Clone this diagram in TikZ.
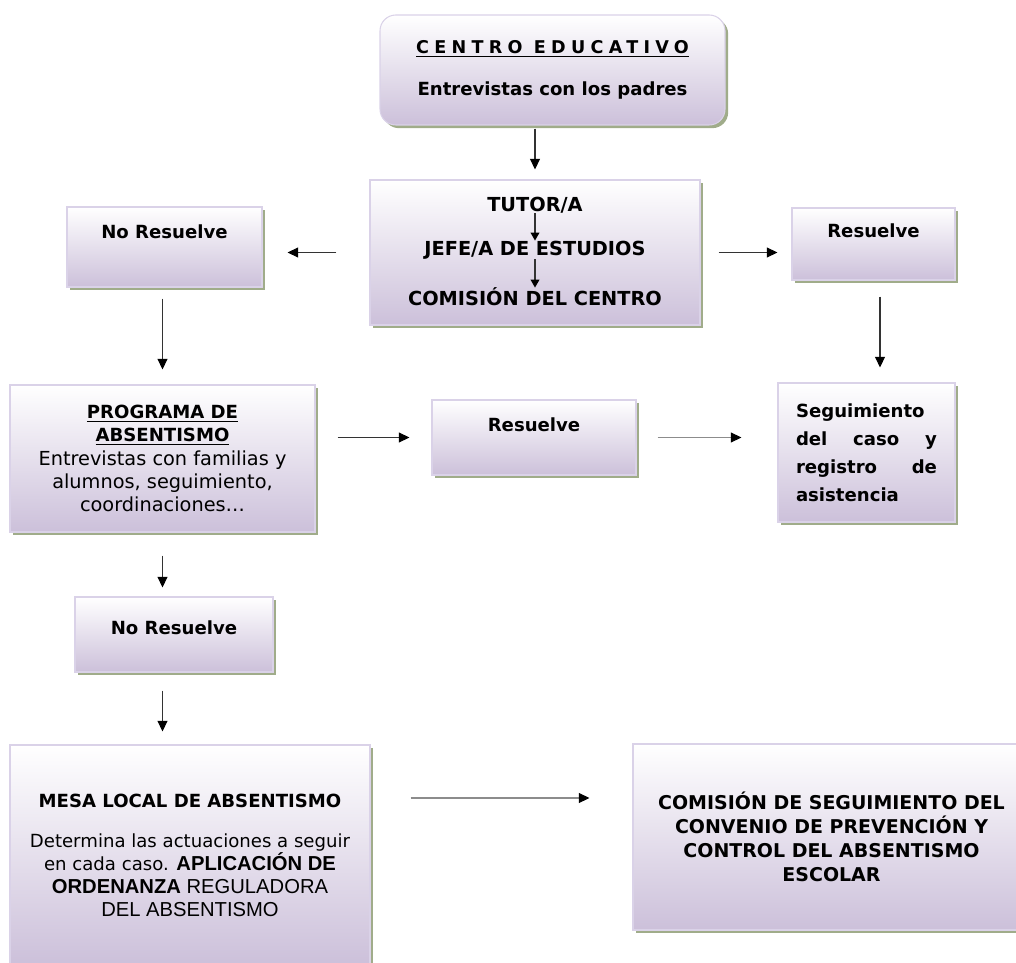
\documentclass[tikz,border=0pt]{standalone}
\usepackage{fontspec}
\setmainfont{DejaVu Sans}
\newfontfamily\arialfont{Liberation Sans}
\newfontfamily\spacedfont[LetterSpace=30]{DejaVu Sans}
\usetikzlibrary{arrows.meta,shadows}
\definecolor{lila}{RGB}{204,192,218}
\definecolor{lilaline}{RGB}{218,210,232}
\definecolor{shadowgreen}{RGB}{160,172,138}

\begin{document}
\begin{tikzpicture}[>={Triangle[length=6pt,width=5.6pt,color=black]},
  box/.style={draw=lilaline,line width=0.6pt,top color=white,bottom color=lila,
    drop shadow={shadow xshift=1.8pt,shadow yshift=-1.8pt,fill=shadowgreen,opacity=1},
    align=center,inner sep=3pt,font=\fontsize{10.3}{13}\selectfont},
  raised/.style={text height=8pt,text depth=#1},
  lbl/.style={inner sep=0pt,font=\bfseries\fontsize{11}{13}\selectfont},
  arr/.style={->,line width=0.6pt,draw=black!80},
  arrg/.style={->,line width=0.6pt,draw=black!45}]
\useasboundingbox (0,0) rectangle (20.32,-19.26);
\node[box,rounded corners=9pt,minimum width=6.9cm,minimum height=2.2cm] (centro) at (11.05,-1.40)
  {{\spacedfont\bfseries\fontsize{10}{11}\selectfont\underline{CENTRO EDUCATIVO}}\\[11pt]\textbf{Entrevistas con los padres}};
\node[box,minimum width=6.6cm,minimum height=2.9cm] (nivel) at (10.7,-5.05) {};
\node[lbl] (tutor) at (10.7,-4.10) {TUTOR/A};
\node[lbl] (jefe) at (10.7,-5.00) {JEFE/A DE ESTUDIOS};
\node[lbl] (comcentro) at (10.7,-5.94) {COMISIÓN DEL CENTRO};
\node[box,minimum width=3.9cm,minimum height=1.6cm,raised=17.6pt] (noRes1) at (3.29,-4.94) {\textbf{No Resuelve}};
\node[box,minimum width=3.26cm,minimum height=1.44cm,raised=15.4pt] (res1) at (17.47,-4.88) {\textbf{Resuelve}};
\node[box,minimum width=6.1cm,minimum height=2.94cm,font=\fontsize{11}{13.2}\selectfont] (programa) at (3.25,-9.17)
  {{\fontsize{10.3}{13}\selectfont\textbf{\underline{PROGRAMA DE}}}\\{\fontsize{10.3}{13}\selectfont\textbf{\underline{ABSENTISMO}}}\\
   Entrevistas con familias y\\alumnos, seguimiento,\\coordinaciones…};
\node[box,minimum width=4.08cm,minimum height=1.5cm,raised=15pt] (res2) at (10.68,-8.75) {\textbf{Resuelve}};
\node[box,minimum width=3.54cm,minimum height=2.78cm,text width=2.82cm,align=left,
  font=\bfseries\fontsize{10.3}{16}\selectfont] (seguimiento) at (17.33,-9.05)
  {Seguimiento\\del\hfill caso\hfill y\\registro\hfill de\\asistencia};
\node[box,minimum width=3.96cm,minimum height=1.5cm,raised=8pt] (noRes2) at (3.48,-12.69) {\textbf{No Resuelve}};
\node[box,minimum width=7.2cm,minimum height=4.4cm] (mesa) at (3.8,-17.1)
  {\textbf{MESA LOCAL DE ABSENTISMO}\\[10pt]Determina las actuaciones a seguir\\
   en cada caso. {\arialfont\bfseries\fontsize{11.5}{13}\selectfont APLICACIÓN DE}\\
   {\arialfont\fontsize{11.5}{13}\selectfont\textbf{ORDENANZA} REGULADORA}\\
   {\arialfont\fontsize{11.5}{13}\selectfont DEL ABSENTISMO}};
\node[box,minimum width=7.94cm,minimum height=3.72cm,font=\bfseries\fontsize{10.8}{13.6}\selectfont] (comision) at (16.63,-16.74)
  {COMISIÓN DE SEGUIMIENTO DEL\\CONVENIO DE PREVENCIÓN Y\\CONTROL DEL ABSENTISMO\\ESCOLAR};
\draw[arr,shorten <=0.06cm,shorten >=0.2cm] (centro.south -| nivel.north) -- (nivel.north);
\draw[arr,>={Triangle[length=4.5pt,width=5pt,color=black]}] (tutor.south) -- (tutor.south |- jefe.north);
\draw[arr,>={Triangle[length=4.5pt,width=5pt,color=black]}] (jefe.south) -- (jefe.south |- comcentro.north);
\draw[arr,shorten <=0.66cm,shorten >=0.5cm] (nivel.west) -- (nivel.west -| noRes1.east);
\draw[arr,shorten <=0.36cm,shorten >=0.28cm] (nivel.east) -- (nivel.east -| res1.west);
\draw[arr,shorten <=0.22cm,shorten >=0.3cm] (noRes1.south -| programa.north) -- (programa.north);
\draw[arr,shorten <=0.32cm,shorten >=0.3cm] ([xshift=0.13cm]res1.south) -- ([xshift=0.13cm]res1.south |- seguimiento.north);
\draw[arr,shorten <=0.44cm,shorten >=0.44cm] (programa.east |- res2.west) -- (res2.west);
\draw[arrg,shorten <=0.42cm,shorten >=0.72cm] (res2.east) -- (res2.east -| seguimiento.west);
\draw[arr,shorten <=0.46cm,shorten >=0.18cm] (programa.south) -- (programa.south |- noRes2.north);
\draw[arr,shorten <=0.36cm,shorten >=0.26cm] (programa.south |- noRes2.south) -- (programa.south |- mesa.north);
\draw[arrg,shorten <=0.8cm,shorten >=0.86cm] ([yshift=1.14cm]mesa.east) -- ([yshift=1.14cm]mesa.east -| comision.west);
\end{tikzpicture}
\end{document}
